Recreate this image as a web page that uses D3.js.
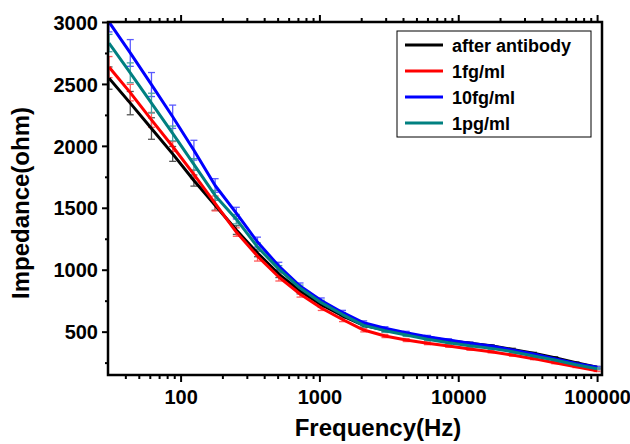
<!DOCTYPE html>
<html><head><meta charset="utf-8">
<script src="https://cdn.jsdelivr.net/npm/d3@7"></script>
<style>
body{margin:0;background:#fff}
text{font-family:"Liberation Sans",Arial,Helvetica,sans-serif;font-weight:bold;fill:#000}
</style>
</head><body>
<svg id="chart" width="630" height="444"></svg>
<script>
// ---- data ----
const frequencies = [30.5, 43.4, 61.7, 87.7, 124.7, 177.3, 252, 358, 510, 725, 1031, 1466,
  2085, 2965, 4216, 5995, 8525, 12123, 17239, 24514, 34860, 49572, 70492, 100000];
const seriesNames = ["after antibody", "1fg/ml", "10fg/ml", "1pg/ml"];
const afterAntibody = [2547, 2345, 2140, 1935, 1720, 1520, 1320, 1135, 965, 829, 718, 628,
  551, 513, 481, 454, 427, 406, 386, 357, 325, 290, 249, 212];
const oneFg = [2636, 2430, 2210, 1995, 1770, 1535, 1304, 1110, 941, 804, 691, 598,
  513, 465, 432, 406, 384, 360, 338, 311, 282, 249, 217, 185];
const tenFg = [3000, 2750, 2495, 2235, 1965, 1680, 1457, 1223, 1030, 868, 752, 655,
  572, 527, 491, 459, 432, 406, 384, 352, 319, 282, 244, 212];
const onePg = [2830, 2590, 2345, 2100, 1850, 1600, 1408, 1183, 1005, 852, 734, 638,
  551, 508, 473, 438, 411, 386, 365, 338, 303, 271, 233, 201];
const afterAntibodyErr = [90, 94, 87, 60, 45, 40, 35, 30, 28, 24, 20, 18, 15, 13, 12, 11, 10, 10, 9, 9, 8, 8, 7, 7];
const oneFgErr = [85, 67, 60, 40, 35, 60, 34, 40, 32, 25, 20, 17, 15, 13, 12, 11, 10, 10, 9, 9, 8, 8, 7, 7];
const tenFgErr = [80, 108, 97, 94, 80, 55, 47, 40, 30, 25, 20, 17, 15, 13, 12, 11, 10, 10, 9, 9, 8, 8, 7, 7];
const onePgErr = [70, 80, 80, 60, 47, 40, 38, 33, 28, 24, 20, 17, 15, 13, 12, 11, 10, 10, 9, 9, 8, 8, 7, 7];
const xTickValues = [100, 1000, 10000, 100000];
const yTickValues = [500, 1000, 1500, 2000, 2500, 3000];
const yMinorValues = [250, 750, 1250, 1750, 2250, 2750];
const xMinorValues = [40, 50, 60, 70, 80, 90, 200, 300, 400, 500, 600, 700, 800, 900,
  2000, 3000, 4000, 5000, 6000, 7000, 8000, 9000, 20000, 30000, 40000, 50000, 60000, 70000, 80000, 90000];

const lineColors = ["#000000", "#ff0000", "#0000ff", "#008080"];
const barColors = ["#555555", "#ff5a5a", "#5a5aff", "#4aa3a3"];
const values = [afterAntibody, oneFg, tenFg, onePg];
const errors = [afterAntibodyErr, oneFgErr, tenFgErr, onePgErr];

// ---- layout ----
const L = 108, R = 602, T = 22, B = 375;
const svg = d3.select("#chart");
const x = d3.scaleLog().domain([30, 108500]).range([L, R]);
const y = d3.scaleLinear().domain([150, 3000]).range([B, T]);

svg.append("defs").append("clipPath").attr("id", "plotclip")
  .append("rect").attr("x", L).attr("y", T).attr("width", R - L).attr("height", B - T);

const plot = svg.append("g").attr("clip-path", "url(#plotclip)");

// error bars
values.forEach((vals, si) => {
  const g = plot.append("g").attr("stroke", barColors[si]).attr("stroke-width", 1.3).attr("fill", "none");
  vals.forEach((v, i) => {
    const cx = x(frequencies[i]);
    const y1 = y(v + errors[si][i]), y2 = y(v - errors[si][i]);
    g.append("line").attr("x1", cx).attr("x2", cx).attr("y1", y1).attr("y2", y2);
    g.append("line").attr("x1", cx - 3.5).attr("x2", cx + 3.5).attr("y1", y1).attr("y2", y1);
    g.append("line").attr("x1", cx - 3.5).attr("x2", cx + 3.5).attr("y1", y2).attr("y2", y2);
  });
});

// lines
const line = d3.line().x((d, i) => x(frequencies[i])).y(d => y(d));
values.forEach((vals, si) => {
  plot.append("path").datum(vals).attr("d", line)
    .attr("fill", "none").attr("stroke", lineColors[si]).attr("stroke-width", 3)
    .attr("stroke-linejoin", "round");
});

// axes
function strip(g) { g.select(".domain").remove(); g.selectAll("line").attr("stroke", "#000").attr("stroke-width", 2); }

svg.append("g").attr("transform", `translate(${L},0)`)
  .call(d3.axisLeft(y).tickValues(yMinorValues).tickSize(3).tickFormat(""))
  .call(strip);
const yAx = svg.append("g").attr("transform", `translate(${L},0)`)
  .call(d3.axisLeft(y).tickValues(yTickValues).tickSize(6).tickPadding(4).tickFormat(d3.format("d")))
  .call(strip);
yAx.selectAll("text").style("font-size", "20px").attr("dy", "0.36em");

svg.append("g").attr("transform", `translate(0,${B})`)
  .call(d3.axisBottom(x).tickValues(xMinorValues).tickSize(4).tickFormat(""))
  .call(strip);
const xAx = svg.append("g").attr("transform", `translate(0,${B})`)
  .call(d3.axisBottom(x).tickValues(xTickValues).tickSize(7).tickPadding(8).tickFormat(d3.format("d")))
  .call(strip);
xAx.selectAll("text").style("font-size", "20px");

svg.append("g").attr("transform", `translate(0,${T})`)
  .call(d3.axisTop(x).tickValues(xMinorValues).tickSize(4).tickFormat(""))
  .call(strip);
svg.append("g").attr("transform", `translate(0,${T})`)
  .call(d3.axisTop(x).tickValues(xTickValues).tickSize(7).tickFormat(""))
  .call(strip);

// frame
svg.append("rect").attr("x", L).attr("y", T).attr("width", R - L).attr("height", B - T)
  .attr("fill", "none").attr("stroke", "#000").attr("stroke-width", 2.5);

// titles
svg.append("text").attr("x", 378).attr("y", 436).attr("text-anchor", "middle")
  .style("font-size", "24px").text("Frequency(Hz)");
svg.append("text").attr("transform", "translate(29,203) rotate(-90)")
  .attr("text-anchor", "middle").style("font-size", "24px").text("Impedance(ohm)");

// legend
const lg = svg.append("g");
lg.append("rect").attr("x", 397).attr("y", 31).attr("width", 194).attr("height", 106)
  .attr("fill", "#fff").attr("stroke", "#000").attr("stroke-width", 1);
seriesNames.forEach((name, i) => {
  const ly = 45 + i * 26;
  lg.append("line").attr("x1", 405).attr("x2", 443).attr("y1", ly).attr("y2", ly)
    .attr("stroke", lineColors[i]).attr("stroke-width", 3);
  lg.append("text").attr("x", 452).attr("y", ly + 6.5).style("font-size", "18px").text(name);
});
</script>
</body></html>
